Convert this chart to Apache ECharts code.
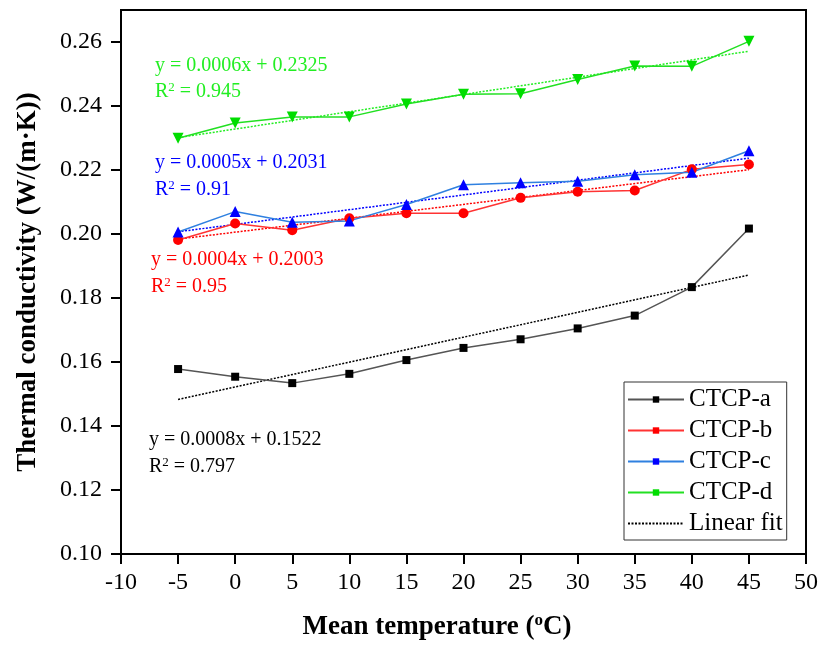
<!DOCTYPE html>
<html>
<head>
<meta charset="utf-8">
<script src="https://cdn.jsdelivr.net/npm/echarts@6/dist/echarts.min.js"></script>
<style>
html,body{margin:0;padding:0;background:#fff;}
#chart{width:821px;height:647px;}
</style>
</head>
<body>
<div id="chart"></div>
<script>
// ---- data ----
var temps = [-5, 0, 5, 10, 15, 20, 25, 30, 35, 40, 45];
var ctcpA = [0.1578, 0.1554, 0.1534, 0.1563, 0.1606, 0.1644, 0.1671, 0.1705, 0.1745, 0.1834, 0.2017];
var ctcpB = [0.1981, 0.2033, 0.2012, 0.2049, 0.2065, 0.2065, 0.2113, 0.2132, 0.2136, 0.2202, 0.2217];
var ctcpC = [0.2006, 0.2070, 0.2037, 0.2041, 0.2092, 0.2154, 0.2160, 0.2165, 0.2185, 0.2193, 0.2260];
var ctcpD = [0.2299, 0.2347, 0.2366, 0.2366, 0.2406, 0.2437, 0.2438, 0.2483, 0.2525, 0.2524, 0.2602];
var fitX = [-5, 45];
var fitA = [0.1483, 0.1872];
var fitB = [0.1984, 0.2201];
var fitC = [0.2007, 0.2237];
var fitD = [0.2301, 0.2571];
var seriesNames = ['CTCP-a', 'CTCP-b', 'CTCP-c', 'CTCP-d'];
var fitName = 'Linear fit';
var yTicks = [0.10, 0.12, 0.14, 0.16, 0.18, 0.20, 0.22, 0.24, 0.26];
var eqA = ['y = 0.0008x + 0.1522', '0.797'];
var eqB = ['y = 0.0004x + 0.2003', '0.95'];
var eqC = ['y = 0.0005x + 0.2031', '0.91'];
var eqD = ['y = 0.0006x + 0.2325', '0.945'];
var xTitle = ['Mean temperature (', 'o', 'C)'];
var yTitle = 'Thermal conductivity (W/(m\u00B7K))';

// ---- styling ----
var FONT = '"Liberation Serif","Times New Roman",serif';
var lineCols = ['#555555', '#ff3333', '#2f80e0', '#22e022'];
var markCols = ['#000000', '#ff0000', '#0000ff', '#00dd00'];
var fitCols = ['#000000', '#ff0000', '#0000ff', '#22ee22'];
var symbols = ['rect', 'circle', 'triangle', 'triangle'];
var symSizes = [8, 10, 11, 11];
var symRot = [0, 0, 0, 180];

function pairs(xs, ys) { return xs.map(function (x, i) { return [x, ys[i]]; }); }

var dataSets = [ctcpA, ctcpB, ctcpC, ctcpD];
var fitSets = [fitA, fitB, fitC, fitD];
var series = [];
fitSets.forEach(function (f, i) {
  series.push({
    name: 'fit' + i, type: 'line', data: pairs(fitX, f), symbol: 'none',
    lineStyle: { color: fitCols[i], width: 1.5, type: [2, 1.5] }, z: 2, silent: true
  });
});
dataSets.forEach(function (d, i) {
  series.push({
    name: 'data' + i, type: 'line', data: pairs(temps, d),
    symbol: symbols[i], symbolSize: symSizes[i], symbolRotate: symRot[i],
    lineStyle: { color: lineCols[i], width: 1.5 },
    itemStyle: { color: markCols[i] }, z: 3
  });
});
// legend-only series (square markers as in the reference legend)
seriesNames.forEach(function (n, i) {
  series.push({
    name: n, type: 'line', data: [], symbol: 'rect', symbolSize: 7,
    lineStyle: { color: lineCols[i], width: 1.5 }, itemStyle: { color: markCols[i] }
  });
});
series.push({
  name: fitName, type: 'line', data: [], symbol: 'none',
  lineStyle: { color: '#000', width: 1.2, type: [2, 1.5] }, itemStyle: { color: 'rgba(0,0,0,0)' }
});

function eqGraphics(eq, col, x, y1, y2) {
  return [
    { type: 'text', x: x, y: y1, style: { text: eq[0], font: '20px ' + FONT, fill: col, verticalAlign: 'middle', align: 'left' } },
    { type: 'text', x: x, y: y2, style: {
        text: '{b|R}{s|2}{b| = ' + eq[1] + '}', fill: col, verticalAlign: 'middle', align: 'left',
        rich: {
          b: { fontFamily: FONT, fontSize: 20, lineHeight: 22, fill: col },
          s: { fontFamily: FONT, fontSize: 13, lineHeight: 13, verticalAlign: 'top', fill: col }
        } } }
  ];
}

var graphics = [].concat(
  eqGraphics(eqD, '#22ee22', 155, 66, 92),
  eqGraphics(eqC, '#0000ff', 155, 163, 190),
  eqGraphics(eqB, '#ff0000', 151, 260, 287),
  eqGraphics(eqA, '#000000', 149, 440, 467),
  [
    { type: 'text', x: 437, y: 627, style: {
        text: '{b|' + xTitle[0] + '}{s|' + xTitle[1] + '}{b|' + xTitle[2] + '}',
        align: 'center', verticalAlign: 'middle',
        rich: {
          b: { fontFamily: FONT, fontSize: 27, fontWeight: 'bold', lineHeight: 30, fill: '#000' },
          s: { fontFamily: FONT, fontSize: 17, fontWeight: 'bold', lineHeight: 17, verticalAlign: 'top', fill: '#000' }
        } } },
    { type: 'text', x: 28, y: 282, rotation: Math.PI / 2, style: {
        text: yTitle, font: 'bold 27px ' + FONT, fill: '#000', align: 'center', verticalAlign: 'middle' } }
  ]
);

var chart = echarts.init(document.getElementById('chart'), null, { renderer: 'canvas' });
chart.setOption({
  animation: false,
  backgroundColor: '#fff',
  textStyle: { fontFamily: FONT },
  grid: { left: 121, right: 14, top: 10, bottom: 93, show: true, borderColor: '#000', borderWidth: 2, backgroundColor: 'transparent' },
  xAxis: {
    type: 'value', min: -10, max: 50, interval: 5,
    axisLine: { show: true, onZero: false, lineStyle: { color: '#000', width: 2 } },
    axisTick: { show: true, inside: false, length: 10, lineStyle: { color: '#000', width: 2 } },
    axisLabel: { color: '#000', fontSize: 24, fontFamily: FONT, margin: 17 },
    splitLine: { show: false }
  },
  yAxis: {
    type: 'value', min: 0.10, max: 0.27, interval: 0.02,
    axisLine: { show: true, onZero: false, lineStyle: { color: '#000', width: 2 } },
    axisTick: { show: true, inside: false, length: 10, customValues: yTicks, lineStyle: { color: '#000', width: 2 } },
    axisLabel: { color: '#000', fontSize: 24, fontFamily: FONT, margin: 19, customValues: yTicks,
      formatter: function (v) { return v.toFixed(2); } },
    splitLine: { show: false }
  },
  legend: {
    data: seriesNames.concat([{ name: fitName, itemStyle: { color: 'rgba(0,0,0,0)', borderWidth: 0 } }]),
    orient: 'vertical', left: 624, top: 382,
    itemWidth: 56, itemHeight: 8, itemGap: 6,
    padding: [5, 4, 4, 3],
    borderColor: '#333', borderWidth: 1, backgroundColor: '#fff',
    textStyle: { fontFamily: FONT, fontSize: 25, lineHeight: 25, color: '#000' },
    selectedMode: false
  },
  series: series,
  graphic: graphics
});
</script>
</body>
</html>
